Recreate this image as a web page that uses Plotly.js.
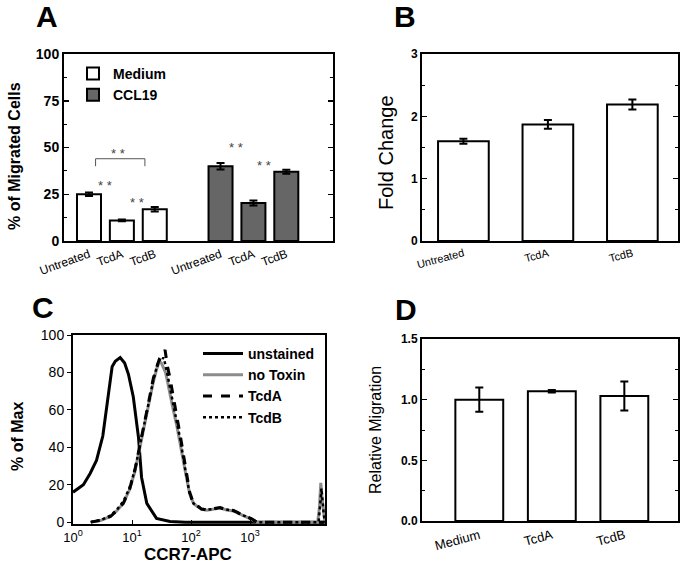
<!DOCTYPE html>
<html>
<head>
<meta charset="utf-8">
<script src="https://cdn.plot.ly/plotly-3.0.1.min.js"></script>
<style>
  html, body { margin: 0; padding: 0; background: #fff; }
  #fig { width: 689px; height: 571px; }
</style>
</head>
<body>
<div id="fig"></div>
<script>
// ---- panel A : % of migrated cells
const treatA = ['Untreated', 'TcdA', 'TcdB'];
const mediumVals = [25, 11, 17];
const mediumErr = [1, 0.5, 1.2];
const ccl19Vals = [40, 20.3, 37];
const ccl19Err = [1.7, 1.3, 1.1];

// ---- panel B : fold change
const treatB = ['Untreated', 'TcdA', 'TcdB'];
const foldVals = [1.6, 1.87, 2.19];
const foldErr = [0.04, 0.07, 0.08];

// ---- panel D : relative migration
const treatD = ['Medium', 'TcdA', 'TcdB'];
const relVals = [1.0, 1.07, 1.03];
const relErr = [0.1, 0.01, 0.12];

// ---- panel C : CCR7-APC histograms (% of max)
const unstainedX = [1, 1.5, 1.95, 2.5, 3.2, 3.7, 4.0, 4.6, 5.2, 6.3, 7.5, 8.7, 10.5, 12.9, 14.5, 17.8, 26, 44, 80, 300, 3000, 18000];
const unstainedY = [16, 20, 26, 33, 46, 60, 69, 83, 86, 88, 85, 79, 67, 45, 24, 10, 2, 0.3, 0, 0, 0, 0];
const noToxinX = [2, 3, 4.3, 5.5, 7.1, 9, 11.2, 13, 15.5, 18, 20.4, 23, 26.3, 29, 31.5, 34, 37, 40, 44, 50, 57, 66, 79, 95, 110, 126, 150, 186, 240, 310, 400, 525, 650, 775, 1070, 1300, 3000, 14000, 15000, 15800, 16500, 17500, 18500];
const noToxinY = [0, 1, 3, 6, 10, 17, 27, 37, 48, 58, 67, 75, 82, 86, 85, 83, 80, 75, 68, 60, 52, 42, 28, 15, 10, 8.5, 7, 6.4, 7, 7.5, 6.5, 6, 4.5, 3.5, 1.5, 0, 0, 0, 8, 21, 14, 5, 0];
const tcdAX = [2, 3, 4.3, 5.5, 7.1, 9, 11.2, 13, 15.5, 18, 20.4, 23, 26.3, 29, 31.5, 34, 36.3, 40, 44, 50, 57, 66, 79, 95, 110, 126, 150, 186, 240, 310, 400, 525, 650, 775, 1070, 1300, 3000, 18500];
const tcdAY = [0, 1, 3, 6, 10, 17, 28, 39, 50, 60, 69, 77, 83, 87, 89, 90, 92, 83, 77, 66, 57, 46, 30, 16, 10, 9, 7, 6.5, 7.2, 7.8, 6.8, 6.2, 4.8, 3.8, 1.8, 0, 0, 0];
const tcdBX = [2, 3, 4.3, 5.5, 7.1, 9, 11.2, 13, 15.5, 18, 20.4, 23, 26.3, 29, 31.5, 34, 37, 40, 44, 50, 57, 66, 79, 95, 110, 126, 150, 186, 240, 310, 400, 525, 650, 775, 1070, 1300, 3000, 14500, 15500, 16200, 17500, 18500];
const tcdBY = [0, 1.2, 3.5, 6.5, 11, 18, 28, 38, 49, 59, 68, 76, 83, 87, 86, 88, 84, 78, 72, 63, 54, 44, 29, 15, 10, 8.8, 7.2, 6.6, 7.1, 7.6, 6.7, 6.1, 4.6, 3.6, 1.6, 0, 0, 0, 10, 18, 6, 0];

const FONT = 'Liberation Sans, Arial, sans-serif';
const W = 689, H = 571;
// pixel box -> paper domain helpers
const dx = (a, b) => [a / W, b / W];
const dy = (top, bottom) => [1 - bottom / H, 1 - top / H];

const posA = (g, i) => g * 4 + i;

const traces = [
  {
    type: 'bar', name: 'Medium', legend: 'legend',
    x: treatA.map((_, i) => posA(0, i)), y: mediumVals,
    error_y: { type: 'data', array: mediumErr, color: '#000', thickness: 2, width: 4 },
    marker: { color: '#fff', line: { color: '#000', width: 2 } },
    width: 0.73, xaxis: 'x', yaxis: 'y'
  },
  {
    type: 'bar', name: 'CCL19', legend: 'legend',
    x: treatA.map((_, i) => posA(1, i)), y: ccl19Vals,
    error_y: { type: 'data', array: ccl19Err, color: '#000', thickness: 2, width: 4 },
    marker: { color: '#666', line: { color: '#000', width: 2 } },
    width: 0.73, xaxis: 'x', yaxis: 'y'
  },
  {
    type: 'bar', x: treatB, y: foldVals, showlegend: false,
    error_y: { type: 'data', array: foldErr, color: '#000', thickness: 2, width: 4 },
    marker: { color: '#fff', line: { color: '#000', width: 2 } },
    width: 0.6, xaxis: 'x2', yaxis: 'y2'
  },
  {
    type: 'scatter', mode: 'lines', name: 'unstained', legend: 'legend2',
    x: unstainedX, y: unstainedY, line: { color: '#000', width: 3 },
    xaxis: 'x3', yaxis: 'y3'
  },
  {
    type: 'scatter', mode: 'lines', name: 'no Toxin', legend: 'legend2',
    x: noToxinX, y: noToxinY, line: { color: '#8c8c8c', width: 3 },
    xaxis: 'x3', yaxis: 'y3'
  },
  {
    type: 'scatter', mode: 'lines', name: 'TcdA', legend: 'legend2',
    x: tcdAX, y: tcdAY, line: { color: '#000', width: 3, dash: 'dash' },
    xaxis: 'x3', yaxis: 'y3'
  },
  {
    type: 'scatter', mode: 'lines', name: 'TcdB', legend: 'legend2',
    x: tcdBX, y: tcdBY, line: { color: '#000', width: 2.5, dash: 'dot' },
    xaxis: 'x3', yaxis: 'y3'
  },
  {
    type: 'bar', x: treatD, y: relVals, showlegend: false,
    error_y: { type: 'data', array: relErr, color: '#000', thickness: 2, width: 4 },
    marker: { color: '#fff', line: { color: '#000', width: 2 } },
    width: 0.66, xaxis: 'x4', yaxis: 'y4'
  }
];

const axLine = { showline: true, linecolor: '#000', linewidth: 2, mirror: 'ticks', zeroline: false, showgrid: false };
const tickY = (size, bold, minor) => ({
  ticks: 'inside', ticklen: 5, tickwidth: 1.5, tickcolor: '#000',
  minor: minor ? { ticks: 'inside', dtick: minor, ticklen: 3, tickwidth: 1, tickcolor: '#000' } : undefined,
  tickfont: { family: FONT, size: size, color: '#000', weight: bold ? 'bold' : 'normal' }
});

const starFont = { family: FONT, size: 13, color: '#444' };
const star = (x, y) => ({ x: x, y: y, xref: 'x', yref: 'y', text: '* *', showarrow: false, font: starFont });
const title = (x, y, text, size, bold, angle) => ({
  x: x / W, y: 1 - y / H, xref: 'paper', yref: 'paper', xanchor: 'center', yanchor: 'middle',
  text: text, showarrow: false,
  textangle: angle || 0, font: { family: FONT, size: size, color: '#000', weight: bold ? 'bold' : 'normal' }
});

const layout = {
  width: W, height: H,
  margin: { l: 0, r: 0, t: 0, b: 0, autoexpand: false },
  paper_bgcolor: '#fff', plot_bgcolor: '#fff',
  font: { family: FONT, color: '#000' },
  bargap: 0,
  xaxis: Object.assign({}, axLine, {
    domain: dx(64, 333), anchor: 'y', range: [-0.76, 7.42],
    tickvals: [0, 1, 2, 4, 5, 6], ticktext: treatA.concat(treatA),
    ticks: '', tickangle: -20, tickfont: { family: FONT, size: 12, color: '#000' }
  }),
  yaxis: Object.assign({}, axLine, tickY(14, true, 12.5), {
    domain: dy(54, 241), anchor: 'x', range: [0, 100], dtick: 25
  }),
  xaxis2: Object.assign({}, axLine, {
    domain: dx(422, 678), anchor: 'y2', range: [-0.49, 2.54],
    ticks: '', tickangle: -15, tickfont: { family: FONT, size: 11, color: '#000' }
  }),
  yaxis2: Object.assign({}, axLine, tickY(12, true, 0.5), {
    domain: dy(54, 241), anchor: 'x2', range: [0, 3], dtick: 1
  }),
  xaxis3: Object.assign({}, axLine, {
    domain: dx(73, 325), anchor: 'y3', type: 'log', range: [0, 4.27],
    tickvals: [1, 10, 100, 1000],
    ticktext: ['10<sup>0</sup>', '10<sup>1</sup>', '10<sup>2</sup>', '10<sup>3</sup>'],
    ticks: 'inside', ticklen: 4, tickcolor: '#000', mirror: true,
    tickfont: { family: FONT, size: 13, color: '#000' }
  }),
  yaxis3: Object.assign({}, axLine, {
    domain: dy(335, 524), anchor: 'x3', range: [-1, 100], dtick: 20, mirror: true,
    ticks: 'outside', ticklen: 4, tickcolor: '#000',
    tickfont: { family: FONT, size: 14, color: '#000' }
  }),
  xaxis4: Object.assign({}, axLine, {
    domain: dx(422, 678), anchor: 'y4', range: [-0.79, 2.74],
    ticks: '', tickangle: -15, tickfont: { family: FONT, size: 13, color: '#000' }
  }),
  yaxis4: Object.assign({}, axLine, tickY(12, true, 0.25), {
    domain: dy(339, 521), anchor: 'x4', range: [0, 1.5], dtick: 0.5, tickformat: '.1f'
  }),
  legend: {
    x: 73 / W, y: 1 - 58 / H, xanchor: 'left', yanchor: 'top',
    bgcolor: 'rgba(0,0,0,0)', tracegroupgap: 0, itemwidth: 30,
    font: { family: FONT, size: 14, color: '#000', weight: 'bold' }
  },
  legend2: {
    x: 198 / W, y: 1 - 338 / H, xanchor: 'left', yanchor: 'top',
    bgcolor: 'rgba(0,0,0,0)', itemwidth: 40,
    font: { family: FONT, size: 14, color: '#000', weight: 'bold' }
  },
  shapes: [
    // significance bracket (panel A)
    { type: 'path', xref: 'x', yref: 'y', path: 'M 0.2 40 L 0.2 44 L 1.7 44 L 1.7 40', line: { color: '#555', width: 1 } }
  ],
  annotations: [
    star(0.88, 47), star(0.48, 29.5), star(1.45, 20.6), star(4.47, 50), star(5.33, 40.2),
    title(47, 17, 'A', 30, true), title(405, 17, 'B', 30, true),
    title(43, 307, 'C', 30, true), title(406, 309, 'D', 30, true),
    title(15, 156, '% of Migrated Cells', 16, true, -90),
    title(386, 153, 'Fold Change', 20, false, -90),
    title(17, 437, '% of Max', 16, true, -90),
    title(375, 430, 'Relative Migration', 16, false, -90),
    title(188, 554, 'CCR7-APC', 17, true)
  ]
};

Plotly.newPlot('fig', traces, layout, { staticPlot: true });
</script>
</body>
</html>
